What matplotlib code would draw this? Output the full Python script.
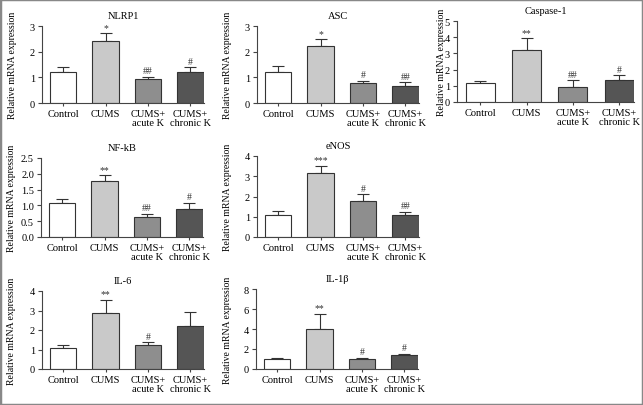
import matplotlib
matplotlib.use("Agg")
import matplotlib.pyplot as plt
from matplotlib.patches import Rectangle

plt.rcParams['font.family'] = ['Liberation Serif', 'DejaVu Serif']

groups = ['Control', 'CUMS', 'CUMS+\nacute K', 'CUMS+\nchronic K']
colors = ['#ffffff', '#c9c9c9', '#8e8e8e', '#555555']

titles = ['NLRP1', 'ASC', 'Caspase-1', 'NF-kB', 'eNOS', 'IL-6', 'IL-1β']

nlrp1 = [1.2, 2.42, 0.95, 1.22]
nlrp1_err = [0.2, 0.3, 0.08, 0.18]
asc = [1.2, 2.22, 0.78, 0.68]
asc_err = [0.25, 0.26, 0.09, 0.12]
casp1 = [1.17, 3.2, 0.93, 1.38]
casp1_err = [0.1, 0.72, 0.4, 0.27]
nfkb = [1.07, 1.78, 0.64, 0.88]
nfkb_err = [0.13, 0.17, 0.1, 0.2]
enos = [1.1, 3.15, 1.8, 1.1]
enos_err = [0.2, 0.35, 0.3, 0.15]
il6 = [1.1, 2.88, 1.22, 2.22]
il6_err = [0.12, 0.67, 0.15, 0.7]
il1b = [1.05, 4.0, 1.02, 1.4]
il1b_err = [0.05, 1.5, 0.08, 0.15]

values = [nlrp1, asc, casp1, nfkb, enos, il6, il1b]
errors = [nlrp1_err, asc_err, casp1_err, nfkb_err, enos_err, il6_err, il1b_err]
marks = [['', '*', '##', '#'],
         ['', '*', '#', '##'],
         ['', '**', '##', '#'],
         ['', '**', '##', '#'],
         ['', '***', '#', '##'],
         ['', '**', '#', ''],
         ['', '**', '#', '#']]
yticks = [[0, 1, 2, 3], [0, 1, 2, 3], [0, 1, 2, 3, 4, 5],
          [0.0, 0.5, 1.0, 1.5, 2.0, 2.5], [0, 1, 2, 3, 4],
          [0, 1, 2, 3, 4], [0, 2, 4, 6, 8]]

# axes boxes in pixels: left, top, right, bottom, and y-label centre x
boxes = [(42, 27, 204, 104, 13), (257, 27, 419, 104, 227), (457, 22, 634, 103, 441),
         (41, 159, 203, 238, 12), (257, 157, 419, 238, 227),
         (42, 292, 204, 370, 12), (256, 290, 418, 370, 227)]

W, H = 643, 406
fs = 7.5
fig = plt.figure(figsize=(W / 100, H / 100), dpi=100)
fig.patches.append(Rectangle((0, 0), 1, 1, transform=fig.transFigure,
                             fill=False, edgecolor='#888888', linewidth=2.5))

axc = '#444444'
x = range(len(groups))
for i in range(len(titles)):
    l, t, r, b, lx = boxes[i]
    ax = fig.add_axes([l / W, 1 - b / H, (r - l) / W, (b - t) / H])
    ax.bar(x, values[i], width=0.62, color=colors, edgecolor='#333333',
           linewidth=0.8, zorder=2)
    ax.errorbar(x, values[i], yerr=[[0] * 4, errors[i]], fmt='none',
                ecolor='#333333', elinewidth=0.8, capsize=4, capthick=0.8,
                zorder=1)
    top = yticks[i][-1]
    for j in x:
        if marks[i][j]:
            ax.text(j, values[i][j] + errors[i][j] + top * 0.02, marks[i][j],
                    ha='center', va='bottom', fontsize=7, color='#333333')
    ax.set_xlim(-0.5, 3.32)
    ax.set_ylim(0, top)
    ax.set_yticks(yticks[i])
    if i == 3:
        ax.set_yticklabels(['%.1f' % v for v in yticks[i]])
    ax.set_xticks(list(x))
    ax.set_xticklabels(groups, fontsize=fs, linespacing=1.1)
    ax.tick_params(axis='y', labelsize=fs, length=3, width=0.8, color=axc, pad=2)
    ax.tick_params(axis='x', length=2, width=0.8, color=axc, pad=2)
    for s in ['top', 'right']:
        ax.spines[s].set_visible(False)
    for s in ['left', 'bottom']:
        ax.spines[s].set_color(axc)
        ax.spines[s].set_linewidth(0.8)
    ax.set_title(titles[i], fontsize=fs, pad=6)
    fig.text(lx / W, 1 - (t + b) / 2 / H, 'Relative mRNA expression',
             rotation=90, ha='center', va='center', fontsize=7)

fig.savefig('out.png', dpi=100)
